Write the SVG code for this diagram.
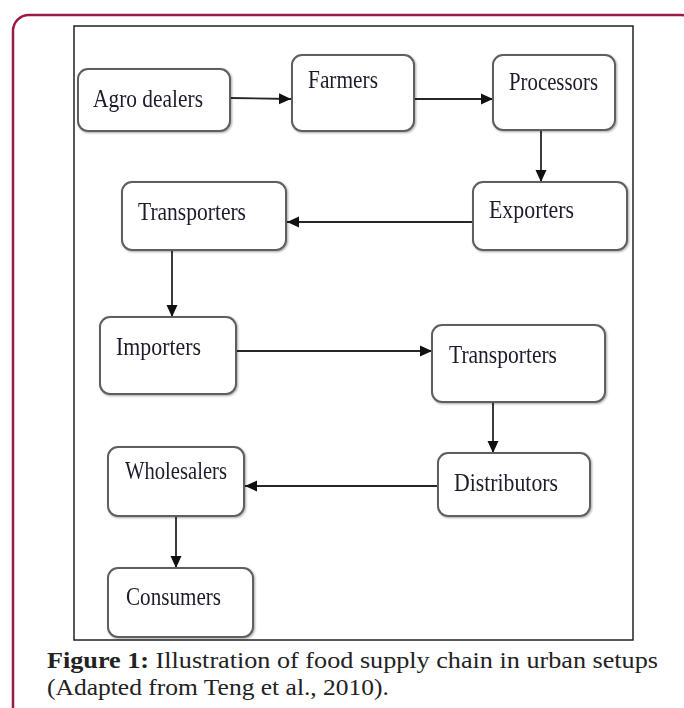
<svg xmlns="http://www.w3.org/2000/svg" width="684" height="708" viewBox="0 0 684 708">
<style>
.box{fill:#ffffff;stroke:#5e5e5e;stroke-width:2}
.lbl{font-family:"Liberation Serif","Times New Roman",serif;font-size:26px;fill:#1c1c2c}
.cap{font-family:"Liberation Serif","Times New Roman",serif;font-size:23px;fill:#222222}
.conn line{stroke:#262626;stroke-width:1.8;fill:none}
</style>
<defs>
<marker id="ah" markerUnits="userSpaceOnUse" markerWidth="13" markerHeight="13" viewBox="0 0 13 13" refX="12" refY="6.5" orient="auto">
<path d="M0,1 L12,6.5 L0,12 Z" fill="#111111"/>
</marker>
<filter id="sh" x="-10%" y="-10%" width="130%" height="130%">
<feGaussianBlur in="SourceAlpha" stdDeviation="1"/>
<feOffset dx="1" dy="1" result="b"/>
<feComponentTransfer><feFuncA type="linear" slope="0.35"/></feComponentTransfer>
<feMerge><feMergeNode/><feMergeNode in="SourceGraphic"/></feMerge>
</filter>
</defs>
<rect x="0" y="0" width="684" height="708" fill="#ffffff"/>
<rect id="outer-border" x="13" y="15" width="684" height="720" rx="16" ry="16" fill="none" stroke="#9b1b44" stroke-width="2.5"/>
<rect id="frame" x="74" y="26" width="559" height="614" fill="none" stroke="#222222" stroke-width="1.5"/>
<g id="connectors" class="conn">
<line x1="230" y1="98" x2="291" y2="99" marker-end="url(#ah)"/>
<line x1="414" y1="99" x2="493" y2="99" marker-end="url(#ah)"/>
<line x1="541" y1="130" x2="541" y2="182" marker-end="url(#ah)"/>
<line x1="473" y1="222" x2="287" y2="222" marker-end="url(#ah)"/>
<line x1="172" y1="250" x2="172" y2="317" marker-end="url(#ah)"/>
<line x1="236" y1="351" x2="432" y2="351" marker-end="url(#ah)"/>
<line x1="493" y1="402" x2="493" y2="453" marker-end="url(#ah)"/>
<line x1="438" y1="486" x2="245" y2="486" marker-end="url(#ah)"/>
<line x1="176" y1="516" x2="176" y2="568" marker-end="url(#ah)"/>
</g>
<g id="agro-dealers" filter="url(#sh)"><rect class="box" x="78" y="69" width="152" height="62" rx="10"/><text class="lbl" x="93" y="107" textLength="110" lengthAdjust="spacingAndGlyphs">Agro dealers</text></g>
<g id="farmers" filter="url(#sh)"><rect class="box" x="292" y="55" width="122" height="76" rx="10"/><text class="lbl" x="308" y="88" textLength="70" lengthAdjust="spacingAndGlyphs">Farmers</text></g>
<g id="processors" filter="url(#sh)"><rect class="box" x="493" y="55" width="122" height="75" rx="10"/><text class="lbl" x="509" y="90" textLength="89" lengthAdjust="spacingAndGlyphs">Processors</text></g>
<g id="exporters" filter="url(#sh)"><rect class="box" x="473" y="182" width="154" height="68" rx="10"/><text class="lbl" x="489" y="218" textLength="85" lengthAdjust="spacingAndGlyphs">Exporters</text></g>
<g id="transporters-1" filter="url(#sh)"><rect class="box" x="122" y="182" width="164" height="68" rx="10"/><text class="lbl" x="138" y="220" textLength="108" lengthAdjust="spacingAndGlyphs">Transporters</text></g>
<g id="importers" filter="url(#sh)"><rect class="box" x="100" y="317" width="136" height="77" rx="10"/><text class="lbl" x="116" y="355" textLength="85" lengthAdjust="spacingAndGlyphs">Importers</text></g>
<g id="transporters-2" filter="url(#sh)"><rect class="box" x="432" y="325" width="173" height="77" rx="10"/><text class="lbl" x="449" y="363" textLength="108" lengthAdjust="spacingAndGlyphs">Transporters</text></g>
<g id="distributors" filter="url(#sh)"><rect class="box" x="438" y="453" width="152" height="63" rx="10"/><text class="lbl" x="454" y="491" textLength="104" lengthAdjust="spacingAndGlyphs">Distributors</text></g>
<g id="wholesalers" filter="url(#sh)"><rect class="box" x="108" y="447" width="136" height="69" rx="10"/><text class="lbl" x="125" y="479" textLength="102" lengthAdjust="spacingAndGlyphs">Wholesalers</text></g>
<g id="consumers" filter="url(#sh)"><rect class="box" x="108" y="568" width="145" height="69" rx="10"/><text class="lbl" x="126" y="605" textLength="95" lengthAdjust="spacingAndGlyphs">Consumers</text></g>
<g id="caption">
<text class="cap" x="47" y="668" textLength="611" lengthAdjust="spacingAndGlyphs"><tspan font-weight="bold">Figure 1:</tspan> Illustration of food supply chain in urban setups</text>
<text class="cap" x="47" y="695" textLength="342" lengthAdjust="spacingAndGlyphs">(Adapted from Teng et al., 2010).</text>
</g>
</svg>
